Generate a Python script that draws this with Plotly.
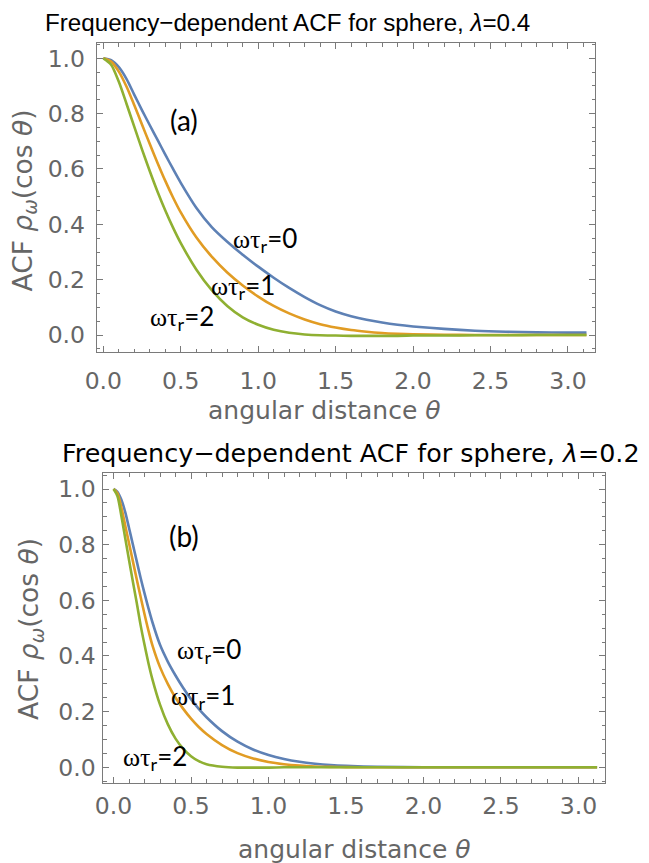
import plotly.graph_objects as go

# ---------------- data ----------------
# panel (a): lambda = 0.4
theta_a = [0, 0.05, 0.1, 0.15, 0.2, 0.25, 0.3, 0.35, 0.4, 0.45, 0.5, 0.6, 0.7, 0.8,
           0.9, 1.0, 1.1, 1.2, 1.3, 1.4, 1.5, 1.6, 1.7, 1.8, 1.9, 2.0, 2.2, 2.4,
           2.6, 2.8, 3.0, 3.12]
acf_a_w0 = [1.000, 0.993, 0.968, 0.925, 0.868, 0.812, 0.758, 0.705, 0.652, 0.600,
            0.550, 0.460, 0.390, 0.337, 0.290, 0.247, 0.207, 0.170, 0.137, 0.108,
            0.085, 0.068, 0.055, 0.045, 0.037, 0.031, 0.022, 0.0155, 0.0118, 0.0097,
            0.0088, 0.0085]
acf_a_w1 = [1.000, 0.988, 0.952, 0.897, 0.830, 0.760, 0.690, 0.622, 0.557, 0.497,
            0.443, 0.353, 0.283, 0.226, 0.179, 0.139, 0.105, 0.078, 0.056, 0.039,
            0.027, 0.018, 0.012, 0.0075, 0.0045, 0.0025, 0.0008, 0.0002, 0.0, 0.0,
            0.0, 0.0]
acf_a_w2 = [1.000, 0.977, 0.915, 0.835, 0.752, 0.670, 0.592, 0.518, 0.450, 0.388,
            0.332, 0.237, 0.162, 0.105, 0.064, 0.037, 0.019, 0.008, 0.002, -0.001,
            -0.002, -0.003, -0.003, -0.003, -0.003, -0.002, -0.002, -0.001, -0.001,
            0.0, 0.0, 0.0]

# panel (b): lambda = 0.2
theta_b = [0, 0.025, 0.05, 0.075, 0.1, 0.125, 0.15, 0.175, 0.2, 0.225, 0.25, 0.3,
           0.35, 0.4, 0.45, 0.5, 0.55, 0.6, 0.7, 0.8, 0.9, 1.0, 1.1, 1.2, 1.3, 1.4,
           1.5, 1.7, 2.0, 2.5, 3.12]
acf_b_w0 = [1.000, 0.990, 0.962, 0.918, 0.860, 0.800, 0.740, 0.680, 0.625, 0.572,
            0.523, 0.440, 0.380, 0.330, 0.285, 0.245, 0.210, 0.180, 0.130, 0.092,
            0.064, 0.044, 0.030, 0.020, 0.013, 0.008, 0.005, 0.0018, 0.0004, 0.0, 0.0]
acf_b_w1 = [1.000, 0.985, 0.935, 0.870, 0.805, 0.740, 0.675, 0.612, 0.550, 0.492,
            0.440, 0.360, 0.300, 0.250, 0.210, 0.175, 0.145, 0.120, 0.080, 0.051,
            0.032, 0.019, 0.011, 0.006, 0.003, 0.0015, 0.0007, 0.0002, 0.0, 0.0, 0.0]
acf_b_w2 = [1.000, 0.975, 0.905, 0.825, 0.745, 0.667, 0.590, 0.510, 0.440, 0.375,
            0.318, 0.225, 0.155, 0.103, 0.066, 0.040, 0.022, 0.011, 0.002, -0.001,
            -0.001, -0.001, 0.0, 0.0, 0.0, 0.0, 0.0, 0.0, 0.0, 0.0, 0.0]

series_names = ["ωτ<sub>r</sub>=0", "ωτ<sub>r</sub>=1", "ωτ<sub>r</sub>=2"]
colors = ["#5E81B5", "#E19C24", "#8FB032"]
panel_titles = ["Frequency\u2212dependent ACF for sphere, <i>λ</i>=0.4",
                "Frequency\u2212dependent ACF for sphere, <i>λ</i>=0.2"]
panel_tags = ["(a)", "(b)"]
x_title = "angular distance <i>θ</i>"
y_title = "ACF <i>ρ<sub>ω</sub></i>(cos <i>θ</i>)"

# ---------------- figure ----------------
W, H = 649, 863
FRAME = "#7a7a7a"
LABEL = "#666666"


def px_x(p):
    return p / W


def px_y(p):
    return 1 - p / H


fig = go.Figure()

panels = [
    ("x", "y", theta_a, [acf_a_w0, acf_a_w1, acf_a_w2]),
    ("x2", "y2", theta_b, [acf_b_w0, acf_b_w1, acf_b_w2]),
]
for xa, ya, th, curves in panels:
    for vals, col, name in zip(curves, colors, series_names):
        fig.add_trace(go.Scatter(
            x=th, y=vals, mode="lines", xaxis=xa, yaxis=ya, name=name,
            line=dict(color=col, width=2.6, shape="spline", smoothing=0.8),
            showlegend=False, hoverinfo="skip"))


def xaxis_style(domain, rng, anchor, standoff):
    return dict(domain=domain, range=rng, anchor=anchor, automargin=False,
                showgrid=False, zeroline=False, showline=True, linecolor=FRAME,
                linewidth=1, mirror="allticks", ticks="inside", ticklen=6,
                tickwidth=1, tickcolor=FRAME, dtick=0.5, tick0=0, tickformat=".1f",
                tickfont=dict(family="DejaVu Sans", size=23.5, color=LABEL),
                ticklabelstandoff=standoff,
                minor=dict(ticks="inside", ticklen=3.5, tickwidth=1,
                           tickcolor=FRAME, dtick=0.1, tick0=0, showgrid=False))


def yaxis_style(domain, rng, anchor, standoff):
    return dict(domain=domain, range=rng, anchor=anchor, automargin=False,
                showgrid=False, zeroline=False, showline=True, linecolor=FRAME,
                linewidth=1, mirror="allticks", ticks="inside", ticklen=6,
                tickwidth=1, tickcolor=FRAME, dtick=0.2, tick0=0, tickformat=".1f",
                tickfont=dict(family="DejaVu Sans", size=23.5, color=LABEL),
                ticklabelstandoff=standoff,
                minor=dict(ticks="inside", ticklen=3.5, tickwidth=1,
                           tickcolor=FRAME, dtick=0.05, tick0=0, showgrid=False))


fig.update_layout(
    template="none",
    width=W, height=H, margin=dict(l=0, r=0, t=0, b=0, pad=0),
    paper_bgcolor="white", plot_bgcolor="white",
    xaxis=xaxis_style([px_x(96.7), px_x(595)], [-0.043, 3.175], "y", 8),
    yaxis=yaxis_style([px_y(352), px_y(43)], [-0.0614, 1.0553], "x", 6),
    xaxis2=xaxis_style([px_x(103.3), px_x(605.3)], [-0.066, 3.173], "y2", 2),
    yaxis2=yaxis_style([px_y(782.7), px_y(473.3)], [-0.0553, 1.0564], "x2", 2),
)

ann = []
# panel titles (left-anchored)
ann.append(dict(text=panel_titles[0], x=px_x(43), y=px_y(23), xref="paper",
                yref="paper", xanchor="left", yanchor="middle", align="left",
                showarrow=False,
                font=dict(family="Liberation Sans", size=24.2, color="black")))
ann.append(dict(text=panel_titles[1], x=px_x(60), y=px_y(453), xref="paper",
                yref="paper", xanchor="left", yanchor="middle", align="left",
                showarrow=False,
                font=dict(family="DejaVu Sans", size=25.4, color="black")))
# axis titles
for cx, cy in [(324, 410), (354, 849)]:
    ann.append(dict(text=x_title, x=px_x(cx), y=px_y(cy), xref="paper", yref="paper",
                    xanchor="center", yanchor="middle", showarrow=False,
                    font=dict(family="DejaVu Sans", size=25, color=LABEL)))
for cx, cy in [(23.5, 201), (30, 629)]:
    ann.append(dict(text=y_title, x=px_x(cx), y=px_y(cy), xref="paper", yref="paper",
                    xanchor="center", yanchor="middle", showarrow=False, textangle=-90,
                    font=dict(family="DejaVu Sans", size=26.5, color=LABEL)))

# panel tags and curve labels (data coordinates)
tag_pos = [("x", "y", 0.523, 0.777), ("x2", "y2", 0.455, 0.831)]
for (xa, ya, tx, ty), tag in zip(tag_pos, panel_tags):
    ann.append(dict(text=tag, x=tx, y=ty, xref=xa, yref=ya, xanchor="center",
                    yanchor="middle", showarrow=False,
                    font=dict(family="Lato", size=28, color="black")))

label_pos = [
    ("x", "y", [(1.043, 0.346), (0.90, 0.176), (0.507, 0.062)]),
    ("x2", "y2", [(0.616, 0.42), (0.577, 0.254), (0.268, 0.034)]),
]
for xa, ya, spots in label_pos:
    for (lx, ly), name in zip(spots, series_names):
        txt = ('<span style="font-family:\'Liberation Serif\'">ωτ</span>'
               + name[2:])
        ann.append(dict(text=txt, x=lx, y=ly, xref=xa, yref=ya, xanchor="center",
                        yanchor="middle", showarrow=False,
                        font=dict(family="Lato", size=26, color="black")))

fig.update_layout(annotations=ann)
fig.write_html("out.html")
